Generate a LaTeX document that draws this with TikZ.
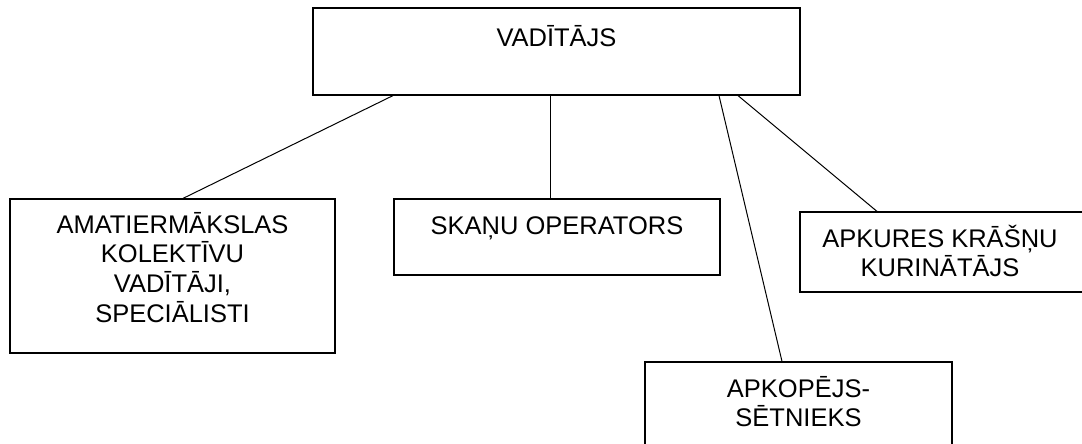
\documentclass[tikz,border=0pt]{standalone}
\usepackage{fontspec}
\setmainfont{Liberation Sans}
\begin{document}
\begin{tikzpicture}[x=1pt,y=-1pt,
  box/.style={draw, line width=1.2pt, rectangle, inner sep=0pt},
  lbl/.style={anchor=base, inner sep=0pt, font=\fontsize{25.5}{29}\selectfont},
  conn/.style={line width=1pt}]
\useasboundingbox (0,0) rectangle (1082,444);
\clip (0,0) rectangle (1082,444);
% boxes
\node[box, minimum width=487pt, minimum height=87pt] (top) at (556.5,51.5) {};
\node[box, minimum width=325pt, minimum height=154pt] (amat) at (172.5,276) {};
\node[box, minimum width=326pt, minimum height=76pt] (skanu) at (557,237) {};
\node[box, minimum width=283pt, minimum height=80pt] (apkur) at (941.5,252) {};
\node[box, minimum width=307pt, minimum height=100pt] (apkop) at (798.5,412) {};
% texts
\node[lbl] (ttop) at (556.5,47) {VADĪTĀJS};
\node[lbl] (tamat) at (172.5,233) {\begin{tabular}[t]{@{}c@{}}AMATIERMĀKSLAS\\KOLEKTĪVU\\VADĪTĀJI,\\SPECIĀLISTI\end{tabular}};
\node[lbl] (tskanu) at (557,234) {SKAŅU OPERATORS};
\node[lbl] (tapkur) at (940,247) {\begin{tabular}[t]{@{}c@{}}APKURES KRĀŠŅU\\KURINĀTĀJS\end{tabular}};
\node[lbl] (tapkop) at (798.5,397) {\begin{tabular}[t]{@{}c@{}}APKOPĒJS-\\SĒTNIEKS\end{tabular}};
% connectors
\draw[conn] (top.south -| 393,0) -- (amat.north -| 183,0);
\draw[conn] (top.south -| 550,0) -- (skanu.north -| 550,0);
\draw[conn] (top.south -| 719,0) -- (apkop.north -| 782,0);
\draw[conn] (top.south -| 738,0) -- (apkur.north -| 877,0);
\end{tikzpicture}
\end{document}
